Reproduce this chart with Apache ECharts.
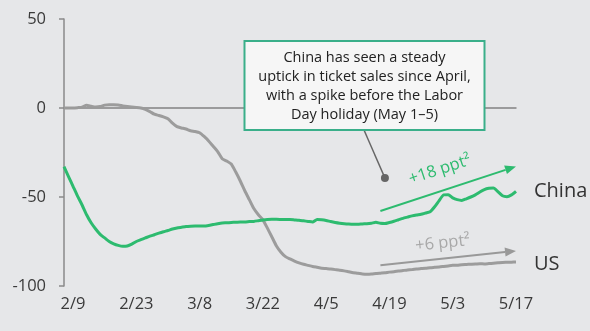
<!DOCTYPE html>
<html>
<head>
<meta charset="utf-8">
<script src="https://cdn.jsdelivr.net/npm/echarts@6/dist/echarts.min.js"></script>
<style>
html,body{margin:0;padding:0;background:#e6e7e9;}
#c{width:590px;height:331px;}
</style>
</head>
<body>
<div id="c"></div>
<script>
// Daily dates 2/7 .. 5/17 (2020)
const dates = [];
(function(){
  const months = [[2,7,29],[3,1,31],[4,1,30],[5,1,17]];
  for (const [m,s,e] of months) for (let d=s; d<=e; d++) dates.push(m+'/'+d);
})();
const tickLabels = ['2/9','2/23','3/8','3/22','4/5','4/19','5/3','5/17'];
const yTicks = [50, 0, -50, -100];

const usValues = [0,0,0,0.2,0.5,1.5,1,0.6,0.8,1.6,
  1.8,1.8,1.7,1.2,0.8,0.5,0.3,0,-0.8,-2,
  -3.5,-4.2,-5,-6,-8.5,-10.5,-11.2,-11.8,-12.8,-13.2,
  -13.9,-16,-18.5,-21.5,-24.5,-28.5,-29.8,-31.5,-36,-41,
  -46.5,-51.5,-56.5,-60,-62.8,-67.5,-72.5,-77.5,-81,-83.5,
  -84.8,-86,-87,-87.8,-88.4,-89,-89.5,-90,-90.2,-90.5,
  -90.8,-91.1,-91.5,-92,-92.5,-92.8,-93.2,-93.4,-93.3,-93,
  -92.8,-92.6,-92.2,-92,-91.6,-91.3,-91,-90.8,-90.4,-90.2,
  -90,-89.7,-89.5,-89.3,-89,-88.7,-88.4,-88.3,-88,-87.9,
  -87.8,-87.7,-87.5,-87.6,-87.4,-87.2,-87,-86.8,-86.7,-86.6,-86.5];

const chinaValues = [-33,-38.5,-44,-49.5,-54.5,-60,-64.5,-68,-71,-73,
  -75,-76.3,-77.2,-77.7,-77.5,-76.5,-75,-74,-73,-72,
  -71.2,-70.3,-69.5,-68.8,-68,-67.4,-67,-66.6,-66.4,-66.3,
  -66.3,-66.3,-66,-65.5,-65,-64.6,-64.5,-64.3,-64.2,-64,
  -64,-63.8,-63.7,-63.3,-62.9,-62.6,-62.5,-62.5,-62.6,-62.7,
  -62.7,-62.9,-63.1,-63.4,-63.7,-64,-62.6,-62.8,-63.2,-63.8,
  -64.3,-64.7,-65,-65.2,-65.3,-65.3,-65.1,-65,-64.7,-64.2,
  -64.8,-64.9,-64.3,-63.6,-62.8,-62,-61.3,-60.6,-60.1,-59.7,
  -59,-58.3,-55.5,-52,-48.8,-48.7,-50.5,-51.5,-51.9,-51,
  -50,-48.8,-47.2,-45.8,-45.1,-44.9,-47,-49.3,-49.8,-48.8,-46.8];

// Trend arrows: [startIndex, startValue, endIndex, endValue]
const chinaTrend = [70, -57.9, 100, -32.8];
const usTrend = [70, -88.4, 100, -80.3];
const calloutPoint = [71, -39.3];

const FONT = '"Open Sans", "Noto Sans", sans-serif';
const GREEN = '#2dbb6f';
const GRAY = '#9c9c9c';

const chart = echarts.init(document.getElementById('c'), null, {renderer:'canvas'});
chart.setOption({
  backgroundColor: '#e6e7e9',
  animation: false,
  grid: {left: 64, right: 74, top: 19, bottom: 45},
  xAxis: {
    type: 'category',
    data: dates,
    boundaryGap: false,
    axisLine: {lineStyle: {color: '#8a8a8a', width: 1.5}},
    axisTick: {show: false},
    axisLabel: {
      color: '#3a3a3a', fontFamily: FONT, fontSize: 16.5, margin: 10,
      interval: (idx, val) => tickLabels.indexOf(val) >= 0,
      formatter: v => v
    },
    splitLine: {show: false}
  },
  yAxis: {
    type: 'value',
    min: -100, max: 50, interval: 50,
    axisLine: {show: true, lineStyle: {color: '#8a8a8a', width: 1.5}},
    axisTick: {show: true, length: 5, lineStyle: {color: '#8a8a8a', width: 1.5}},
    axisLabel: {color: '#3a3a3a', fontFamily: FONT, fontSize: 16.5, margin: 18,
      formatter: v => yTicks.indexOf(v) >= 0 ? String(v) : ''},
    splitLine: {show: false}
  },
  series: [
    {
      name: 'US', type: 'line', data: usValues, showSymbol: false, smooth: 0.2,
      lineStyle: {color: GRAY, width: 3}, z: 3,
      markLine: {
        silent: true, symbol: ['none','none'],
        lineStyle: {color: '#9a9a9a', width: 1.5, type: 'solid'},
        label: {show: false},
        data: [{yAxis: 0}]
      },
      endLabel: {show: true, formatter: 'US', color: '#333', fontFamily: FONT, fontSize: 20, distance: 18, offset: [0, 2]}
    },
    {
      name: 'China', type: 'line', data: chinaValues, showSymbol: false, smooth: 0.2,
      lineStyle: {color: GREEN, width: 3}, z: 4,
      endLabel: {show: true, formatter: 'China', color: '#333', fontFamily: FONT, fontSize: 20, distance: 18}
    }
  ]
});

function px(i, v){ return chart.convertToPixel({gridIndex:0}, [i, v]); }

function arrow(tr, color){
  const a = px(tr[0], tr[1]), b = px(tr[2], tr[3]);
  const ang = Math.atan2(b[1]-a[1], b[0]-a[0]);
  const L = 11, W = 4.5;
  const base = [b[0]-L*Math.cos(ang), b[1]-L*Math.sin(ang)];
  const p1 = [base[0]+W*Math.sin(ang), base[1]-W*Math.cos(ang)];
  const p2 = [base[0]-W*Math.sin(ang), base[1]+W*Math.cos(ang)];
  return [
    {type:'line', shape:{x1:a[0], y1:a[1], x2:base[0], y2:base[1]}, style:{stroke:color, lineWidth:2}, z:10},
    {type:'polygon', shape:{points:[b, p1, p2]}, style:{fill:color}, z:10}
  ];
}

function trendLabel(tr, text, color, offset, shift){
  const a = px(tr[0], tr[1]), b = px(tr[2], tr[3]);
  const ang = Math.atan2(b[1]-a[1], b[0]-a[0]);
  const mx = (a[0]+b[0])/2, my = (a[1]+b[1])/2;
  const ox = mx + offset*Math.sin(ang) + shift, oy = my - offset*Math.cos(ang);
  return {type:'text', x: ox, y: oy, rotation: -ang, originX: 0, originY: 0,
    style:{text:text, fill:color, font:'16.5px ' + FONT, align:'center', verticalAlign:'middle'}, z:10};
}

const dot = px(calloutPoint[0], calloutPoint[1]);
const box = {x: 244.5, y: 41, w: 240, h: 89};

const graphics = [].concat(
  arrow(chinaTrend, GREEN),
  arrow(usTrend, '#999999'),
  [
    trendLabel(chinaTrend, '+18 ppt²', GREEN, 20, -2),
    trendLabel(usTrend, '+6 ppt²', '#a8a8a8', 15, -4),
    {type:'line', shape:{x1: box.x + 119.5, y1: box.y + box.h, x2: dot[0], y2: dot[1]},
      style:{stroke:'#666', lineWidth:1.5}, z:9},
    {type:'circle', shape:{cx: dot[0], cy: dot[1], r: 4}, style:{fill:'#666'}, z:9},
    {type:'rect', shape:{x: box.x, y: box.y, width: box.w, height: box.h},
      style:{fill:'#f6f6f6', stroke:'#3aaf8a', lineWidth:2}, z:11},
    {type:'text', x: box.x + box.w/2, y: box.y + box.h/2 + 1, z:12,
      style:{text:'China has seen a steady\nuptick in ticket sales since April,\nwith a spike before the Labor\nDay holiday (May 1–5)',
        fill:'#222', font:'14.5px ' + FONT, lineHeight: 19, align:'center', verticalAlign:'middle'}}
  ]
);
chart.setOption({graphic: graphics});
</script>
</body>
</html>
